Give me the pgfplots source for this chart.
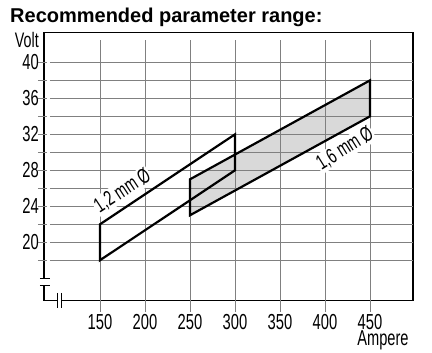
\documentclass[border=0pt]{standalone}
\usepackage{fontspec}
\setmainfont{Liberation Sans}
\newfontfamily\condfont[FakeStretch=0.68]{Liberation Sans}
\usepackage{pgfplots}
\pgfplotsset{compat=1.18}
\begin{document}
\begin{tikzpicture}
\useasboundingbox (-44.3pt,-52.3pt) rectangle (387.7pt,300.7pt);
\begin{axis}[
  at={(0pt,0pt)}, anchor=south west,
  scale only axis, width=369pt, height=268pt,
  xmin=88.1, xmax=498.1, ymin=13.5, ymax=43.3,
  axis line style={line width=1.6pt},
  xtick={150,200,250,300,350,400,450},
  ytick={20,24,28,32,36,40},
  major tick length=0pt,
  /pgf/number format/assume math mode=true,
  xticklabel style={font=\condfont\fontsize{21.7}{21.7}\selectfont, anchor=base, yshift=-29.3pt},
  yticklabel style={font=\condfont\fontsize{21.7}{21.7}\selectfont, anchor=east, inner sep=0pt, xshift=-5.3pt},
  clip=false,
]
% 1.6 mm region fill
\addplot[fill=black!15, draw=none] coordinates {(250,23) (250,27) (450,38) (450,34)} -- cycle;
% grid
\pgfplotsinvokeforeach{150,200,250,300,350,400,450}{
  \draw[black!50, line width=0.8pt] (axis cs:#1,12.28) -- (axis cs:#1,42.5);
}
\pgfplotsinvokeforeach{18,20,22,24,26,28,30,32,34,36,38,40}{
  \draw[black!50, line width=0.8pt] (axis cs:81.1,#1) -- (axis cs:91.6,#1);
  \draw[black!50, line width=0.8pt] (axis cs:94.4,#1) -- (axis cs:498.1,#1);
}
% outlines
\addplot[line width=2.2pt, line join=miter] coordinates {(150,18) (150,22) (300,32) (300,28)} -- cycle;
\addplot[line width=2.2pt, line join=miter] coordinates {(250,23) (250,27) (450,38) (450,34)} -- cycle;
\node[rotate=33, fill=white, inner sep=1pt, font=\condfont\fontsize{21}{21}\selectfont] at (axis cs:175,25.7) {1,2 mm Ø};
\node[rotate=32, fill=white, inner sep=1pt, font=\condfont\fontsize{21}{21}\selectfont] at (axis cs:422.2,30.4) {1,6 mm Ø};
\end{axis}
% axis breaks
\fill[white] (-3pt,14.7pt) rectangle (3pt,21.7pt);
\draw[line width=1pt] (-4.3pt,21.7pt) -- (5.7pt,21.7pt);
\draw[line width=1pt] (-4.3pt,14.7pt) -- (5.7pt,14.7pt);
\fill[white] (13.5pt,-3pt) rectangle (17.5pt,3pt);
\draw[line width=1pt] (13.5pt,7.7pt) -- (13.5pt,-7.3pt);
\draw[line width=1pt] (17.5pt,7.7pt) -- (17.5pt,-7.3pt);
% labels
\node[anchor=base west, inner sep=0pt, font=\bfseries\fontsize{20}{20}\selectfont] at (-34.3pt,277.7pt) {Recommended parameter range:};
\node[anchor=base east, inner sep=0pt, font=\condfont\fontsize{21}{21}\selectfont] at (-5.3pt,253.2pt) {Volt};
\node[anchor=base east, inner sep=0pt, font=\condfont\fontsize{21.5}{21.5}\selectfont] at (364.5pt,-45pt) {Ampere};
\end{tikzpicture}
\end{document}
